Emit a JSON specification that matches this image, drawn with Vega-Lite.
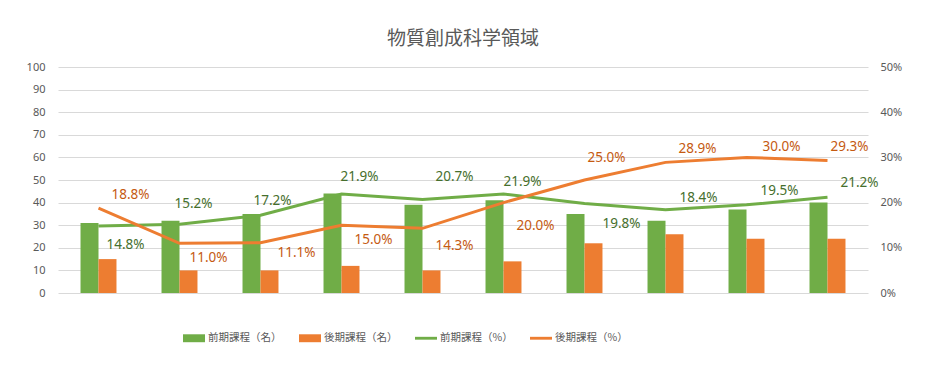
{
  "$schema": "https://vega.github.io/schema/vega-lite/v6.json",
  "width": 810,
  "height": 226,
  "autosize": "none",
  "padding": {"left": 58, "top": 67, "right": 75, "bottom": 87},
  "background": "white",
  "config": {"view": {"stroke": null}, "font": "Noto Sans"},
  "title": {"text": "物質創成科学領域", "font": "Noto Sans CJK JP", "fontSize": 19, "fontWeight": "normal", "color": "#595959", "anchor": "middle", "offset": 12},
  "data": {"values": [
    {"year": "2014", "course": "前期課程", "count": 31, "pct": 14.8},
    {"year": "2015", "course": "前期課程", "count": 32, "pct": 15.2},
    {"year": "2016", "course": "前期課程", "count": 35, "pct": 17.2},
    {"year": "2017", "course": "前期課程", "count": 44, "pct": 21.9},
    {"year": "2018", "course": "前期課程", "count": 39, "pct": 20.7},
    {"year": "2019", "course": "前期課程", "count": 41, "pct": 21.9},
    {"year": "2020", "course": "前期課程", "count": 35, "pct": 19.8},
    {"year": "2021", "course": "前期課程", "count": 32, "pct": 18.4},
    {"year": "2022", "course": "前期課程", "count": 37, "pct": 19.5},
    {"year": "2023", "course": "前期課程", "count": 40, "pct": 21.2},
    {"year": "2014", "course": "後期課程", "count": 15, "pct": 18.8},
    {"year": "2015", "course": "後期課程", "count": 10, "pct": 11.0},
    {"year": "2016", "course": "後期課程", "count": 10, "pct": 11.1},
    {"year": "2017", "course": "後期課程", "count": 12, "pct": 15.0},
    {"year": "2018", "course": "後期課程", "count": 10, "pct": 14.3},
    {"year": "2019", "course": "後期課程", "count": 14, "pct": 20.0},
    {"year": "2020", "course": "後期課程", "count": 22, "pct": 25.0},
    {"year": "2021", "course": "後期課程", "count": 26, "pct": 28.9},
    {"year": "2022", "course": "後期課程", "count": 24, "pct": 30.0},
    {"year": "2023", "course": "後期課程", "count": 24, "pct": 29.3}
  ]},
  "layer": [
    {
      "transform": [{"calculate": "datum.course + '（名）'", "as": "series"}],
      "mark": {"type": "bar"},
      "encoding": {
        "x": {"field": "year", "type": "nominal", "title": null,
          "scale": {"paddingInner": 0.556, "paddingOuter": 0.278},
          "axis": {"labelAngle": 0, "ticks": false, "tickSize": 0, "labelPadding": 11, "labelFontSize": 11, "labelColor": "#595959", "domainColor": "#D9D9D9", "domainWidth": 1, "grid": false}},
        "xOffset": {"field": "course", "type": "nominal", "sort": ["前期課程", "後期課程"]},
        "y": {"field": "count", "type": "quantitative", "title": null,
          "scale": {"domain": [0, 100], "nice": false},
          "axis": {"values": [0, 10, 20, 30, 40, 50, 60, 70, 80, 90, 100], "grid": true, "gridColor": "#D9D9D9", "gridWidth": 1, "domain": false, "ticks": false, "tickSize": 0, "labelPadding": 13, "labelFontSize": 11, "labelColor": "#595959"}},
        "color": {"field": "series", "type": "nominal",
          "scale": {"domain": ["前期課程（名）", "後期課程（名）", "前期課程（%）", "後期課程（%）"], "range": ["#70AD47", "#ED7D31", "#70AD47", "#ED7D31"]},
          "legend": {"orient": "none", "legendX": 125, "legendY": 260, "direction": "horizontal", "title": null, "symbolSize": 484, "labelFont": "Noto Sans CJK JP", "labelFontSize": 10.5, "labelColor": "#595959", "columnPadding": 17, "labelOffset": 3, "padding": 0,
            "encode": {"symbols": {"update": {
              "shape": {"signal": "indexof(datum.value, '%') >= 0 ? 'M-1,-0.13H1V0.13H-1Z' : 'M-1,-0.36H1V0.36H-1Z'"},
              "fill": {"scale": "color", "field": "value"},
              "stroke": {"value": "transparent"},
              "strokeWidth": {"value": 0},
              "opacity": {"value": 1}}}}}}
      }
    },
    {
      "transform": [
        {"calculate": "datum.course + '（%）'", "as": "series"},
        {"calculate": "format(datum.pct, '.1f') + '%'", "as": "label"}
      ],
      "encoding": {
        "x": {"field": "year", "type": "nominal", "axis": null},
        "y": {"field": "pct", "type": "quantitative", "title": null,
          "scale": {"domain": [0, 50], "nice": false},
          "axis": {"orient": "right", "values": [0, 10, 20, 30, 40, 50], "labelExpr": "datum.value + '%'", "grid": false, "domain": false, "ticks": false, "tickSize": 0, "labelPadding": 12, "labelFontSize": 11, "labelColor": "#595959"}}
      },
      "layer": [
        {"mark": {"type": "line", "strokeWidth": 3}, "encoding": {"color": {"field": "series", "type": "nominal"}}},
        {"transform": [{"filter": "datum.course == '前期課程' && datum.year == '2014'"}], "mark": {"type": "text", "dx": 27, "dy": 19, "fontSize": 13.5, "color": "#466F2D"}, "encoding": {"text": {"field": "label"}}},
        {"transform": [{"filter": "datum.course == '前期課程' && datum.year == '2015'"}], "mark": {"type": "text", "dx": 14, "dy": -20, "fontSize": 13.5, "color": "#466F2D"}, "encoding": {"text": {"field": "label"}}},
        {"transform": [{"filter": "datum.course == '前期課程' && datum.year == '2016'"}], "mark": {"type": "text", "dx": 12, "dy": -14, "fontSize": 13.5, "color": "#466F2D"}, "encoding": {"text": {"field": "label"}}},
        {"transform": [{"filter": "datum.course == '前期課程' && datum.year == '2017'"}], "mark": {"type": "text", "dx": 18, "dy": -17, "fontSize": 13.5, "color": "#466F2D"}, "encoding": {"text": {"field": "label"}}},
        {"transform": [{"filter": "datum.course == '前期課程' && datum.year == '2018'"}], "mark": {"type": "text", "dx": 32, "dy": -22, "fontSize": 13.5, "color": "#466F2D"}, "encoding": {"text": {"field": "label"}}},
        {"transform": [{"filter": "datum.course == '前期課程' && datum.year == '2019'"}], "mark": {"type": "text", "dx": 19, "dy": -12, "fontSize": 13.5, "color": "#466F2D"}, "encoding": {"text": {"field": "label"}}},
        {"transform": [{"filter": "datum.course == '前期課程' && datum.year == '2020'"}], "mark": {"type": "text", "dx": 37, "dy": 20, "fontSize": 13.5, "color": "#466F2D"}, "encoding": {"text": {"field": "label"}}},
        {"transform": [{"filter": "datum.course == '前期課程' && datum.year == '2021'"}], "mark": {"type": "text", "dx": 33, "dy": -12, "fontSize": 13.5, "color": "#466F2D"}, "encoding": {"text": {"field": "label"}}},
        {"transform": [{"filter": "datum.course == '前期課程' && datum.year == '2022'"}], "mark": {"type": "text", "dx": 33, "dy": -14, "fontSize": 13.5, "color": "#466F2D"}, "encoding": {"text": {"field": "label"}}},
        {"transform": [{"filter": "datum.course == '前期課程' && datum.year == '2023'"}], "mark": {"type": "text", "dx": 32, "dy": -14, "fontSize": 13.5, "color": "#466F2D"}, "encoding": {"text": {"field": "label"}}},
        {"transform": [{"filter": "datum.course == '後期課程' && datum.year == '2014'"}], "mark": {"type": "text", "dx": 32, "dy": -13, "fontSize": 13.5, "color": "#C55A11"}, "encoding": {"text": {"field": "label"}}},
        {"transform": [{"filter": "datum.course == '後期課程' && datum.year == '2015'"}], "mark": {"type": "text", "dx": 29, "dy": 15, "fontSize": 13.5, "color": "#C55A11"}, "encoding": {"text": {"field": "label"}}},
        {"transform": [{"filter": "datum.course == '後期課程' && datum.year == '2016'"}], "mark": {"type": "text", "dx": 36, "dy": 10, "fontSize": 13.5, "color": "#C55A11"}, "encoding": {"text": {"field": "label"}}},
        {"transform": [{"filter": "datum.course == '後期課程' && datum.year == '2017'"}], "mark": {"type": "text", "dx": 32, "dy": 15, "fontSize": 13.5, "color": "#C55A11"}, "encoding": {"text": {"field": "label"}}},
        {"transform": [{"filter": "datum.course == '後期課程' && datum.year == '2018'"}], "mark": {"type": "text", "dx": 32, "dy": 18, "fontSize": 13.5, "color": "#C55A11"}, "encoding": {"text": {"field": "label"}}},
        {"transform": [{"filter": "datum.course == '後期課程' && datum.year == '2019'"}], "mark": {"type": "text", "dx": 32, "dy": 23, "fontSize": 13.5, "color": "#C55A11"}, "encoding": {"text": {"field": "label"}}},
        {"transform": [{"filter": "datum.course == '後期課程' && datum.year == '2020'"}], "mark": {"type": "text", "dx": 22, "dy": -22, "fontSize": 13.5, "color": "#C55A11"}, "encoding": {"text": {"field": "label"}}},
        {"transform": [{"filter": "datum.course == '後期課程' && datum.year == '2021'"}], "mark": {"type": "text", "dx": 32, "dy": -13, "fontSize": 13.5, "color": "#C55A11"}, "encoding": {"text": {"field": "label"}}},
        {"transform": [{"filter": "datum.course == '後期課程' && datum.year == '2022'"}], "mark": {"type": "text", "dx": 35, "dy": -10, "fontSize": 13.5, "color": "#C55A11"}, "encoding": {"text": {"field": "label"}}},
        {"transform": [{"filter": "datum.course == '後期課程' && datum.year == '2023'"}], "mark": {"type": "text", "dx": 22, "dy": -14, "fontSize": 13.5, "color": "#C55A11"}, "encoding": {"text": {"field": "label"}}}
      ]
    }
  ],
  "resolve": {"scale": {"y": "independent"}}
}
